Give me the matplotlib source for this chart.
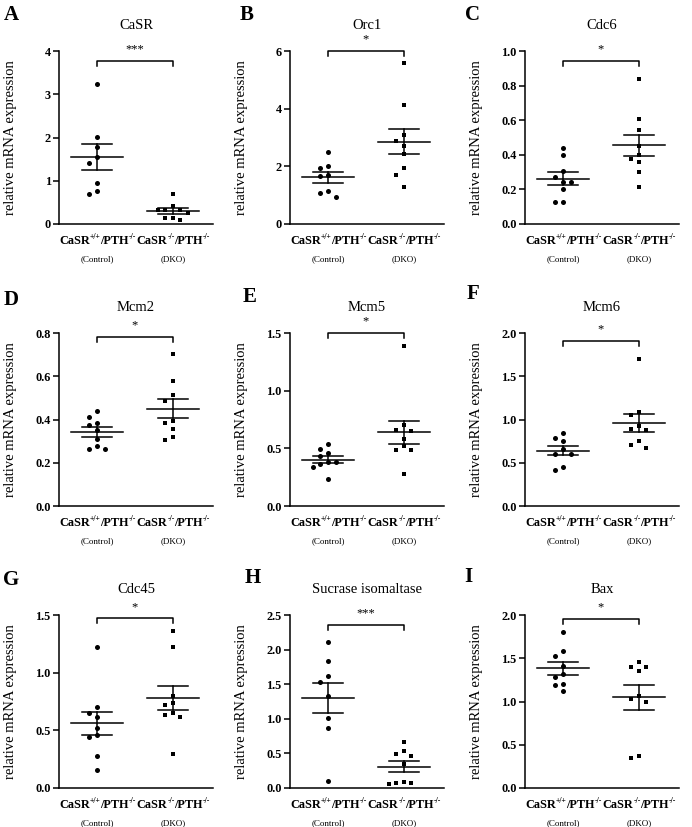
import numpy as np
import matplotlib
matplotlib.use("Agg")
import matplotlib.pyplot as plt

plt.rcParams['font.family'] = ['Liberation Serif', 'DejaVu Serif']

# ---------------- data ----------------
panel_letters = ["A", "B", "C", "D", "E", "F", "G", "H", "I"]
titles = ["CaSR", "Orc1", "Cdc6", "Mcm2", "Mcm5", "Mcm6", "Cdc45",
          "Sucrase isomaltase", "Bax"]
significance = ["***", "*", "*", "*", "*", "*", "*", "***", "*"]
# group labels as (text, is_superscript) pieces
group_labels = [[("CaSR", False), ("+/+", True), ("/PTH", False), ("-/-", True)],
                [("CaSR", False), ("-/-", True), ("/PTH", False), ("-/-", True)]]
group_sublabels = ["(Control)", "(DKO)"]
ylabel = "relative mRNA expression"

y_max = [4, 6, 1.0, 0.8, 1.5, 2.0, 1.5, 2.5, 2.0]
y_step = [1, 2, 0.2, 0.2, 0.5, 0.5, 0.5, 0.5, 0.5]
y_fmt = ["{:.0f}", "{:.0f}", "{:.1f}", "{:.1f}", "{:.1f}", "{:.1f}",
         "{:.1f}", "{:.1f}", "{:.1f}"]

casr_ctrl = [3.24, 2.01, 1.78, 1.56, 1.42, 0.94, 0.77, 0.70]
casr_dko = [0.70, 0.41, 0.33, 0.33, 0.33, 0.26, 0.14, 0.09, 0.14]
orc1_ctrl = [2.50, 2.00, 1.93, 1.70, 1.65, 1.16, 1.08, 0.92]
orc1_dko = [5.57, 4.13, 3.08, 2.88, 2.69, 2.42, 1.93, 1.70, 1.29]
cdc6_ctrl = [0.442, 0.398, 0.308, 0.244, 0.244, 0.269, 0.200, 0.129, 0.129]
cdc6_dko = [0.838, 0.605, 0.543, 0.451, 0.399, 0.376, 0.358, 0.300, 0.214]
mcm2_ctrl = [0.440, 0.410, 0.386, 0.374, 0.352, 0.312, 0.278, 0.263, 0.263]
mcm2_dko = [0.703, 0.579, 0.514, 0.485, 0.386, 0.394, 0.355, 0.321, 0.306]
mcm5_ctrl = [0.541, 0.494, 0.459, 0.430, 0.378, 0.366, 0.378, 0.337, 0.233]
mcm5_dko = [1.384, 0.706, 0.657, 0.648, 0.584, 0.488, 0.488, 0.517, 0.276]
mcm6_ctrl = [0.849, 0.784, 0.753, 0.664, 0.598, 0.598, 0.456, 0.417]
mcm6_dko = [1.70, 1.089, 1.05, 0.888, 0.880, 0.927, 0.753, 0.703, 0.676]
cdc45_ctrl = [1.222, 0.704, 0.617, 0.652, 0.524, 0.443, 0.463, 0.275, 0.153]
cdc45_dko = [1.361, 1.219, 0.796, 0.718, 0.733, 0.631, 0.617, 0.652, 0.293]
si_ctrl = [2.104, 1.834, 1.622, 1.525, 1.332, 1.018, 0.874, 0.101]
si_dko = [0.660, 0.539, 0.491, 0.462, 0.342, 0.068, 0.053, 0.068, 0.082]
bax_ctrl = [1.799, 1.587, 1.525, 1.409, 1.317, 1.278, 1.208, 1.189, 1.124]
bax_dko = [1.460, 1.402, 1.395, 1.356, 1.067, 1.029, 0.998, 0.350, 0.370]

controls = [casr_ctrl, orc1_ctrl, cdc6_ctrl, mcm2_ctrl, mcm5_ctrl, mcm6_ctrl,
            cdc45_ctrl, si_ctrl, bax_ctrl]
dkos = [casr_dko, orc1_dko, cdc6_dko, mcm2_dko, mcm5_dko, mcm6_dko,
        cdc45_dko, si_dko, bax_dko]

# ---------------- style / layout ----------------
bracket_frac = [0.94, 1.0, 0.94, 0.979, 1.0, 0.956, 0.98, 0.942, 0.975]
W, H = 692, 827
DPI = 100
col_left = [59, 290, 525]
ax_w = 154
row_top = [51, 333, 615]
ax_h = 173
letter_pos = [(11, 15), (247, 15), (472, 15),
              (11, 300), (250, 297), (473, 294),
              (11, 580), (253, 578), (468, 577)]
px_per_unit_x = 76.0
label_size = 8.8
sup_size = 5.6

fig = plt.figure(figsize=(W / DPI, H / DPI), dpi=DPI)
renderer = fig.canvas.get_renderer()


def swarm(vals, center, ppu_y, ppu_x, D=7.0, d=0.1):
    vals = np.asarray(vals, float)
    order = np.argsort(-vals, kind="stable")
    placed = []
    xs = np.empty(len(vals))
    for i in order:
        y = vals[i] * ppu_y
        chosen = 0
        for k in [0, -1, 1, -2, 2, -3, 3]:
            x = k * d * ppu_x
            if all(np.hypot(x - px, y - py) >= D for px, py in placed):
                chosen = k
                break
        placed.append((chosen * d * ppu_x, y))
        xs[i] = center + chosen * d
    return xs


def piece_label(ax, g, pieces, y_off):
    texts = []
    widths = []
    for s, sup in pieces:
        t = ax.annotate(s, xy=(g, 0), xycoords=("data", "axes fraction"),
                        xytext=(0, 0), textcoords="offset points",
                        ha="left", va="baseline",
                        fontsize=sup_size if sup else label_size,
                        fontweight="bold", annotation_clip=False)
        texts.append(t)
        w = t.get_window_extent(renderer).width * 72 / DPI
        widths.append(w - (0.6 if sup else 0.0))
    total = sum(widths)
    x = -total / 2
    for t, w, (s, sup) in zip(texts, widths, pieces):
        t.set_position((x, y_off + (3.6 if sup else 0)))
        x += w


lw = 1.1
for idx in range(9):
    r, c = divmod(idx, 3)
    left = col_left[c] / W
    bottom = 1 - (row_top[r] + ax_h) / H
    ax = fig.add_axes([left, bottom, ax_w / W, ax_h / H])
    ymax = y_max[idx]
    ax.set_xlim(-0.5, 1.53)
    ax.set_ylim(0, ymax)
    ppu_y = ax_h / ymax

    for sp in ["top", "right"]:
        ax.spines[sp].set_visible(False)
    for sp in ["left", "bottom"]:
        ax.spines[sp].set_linewidth(lw)
    ticks = np.arange(0, ymax + 1e-9, y_step[idx])
    ax.set_yticks(ticks)
    ax.set_yticklabels([y_fmt[idx].format(t) for t in ticks],
                       fontweight="bold", fontsize=8.8)
    ax.tick_params(axis="y", length=4, width=lw, pad=2)
    ax.set_xticks([])

    for g, (vals, mk) in enumerate([(controls[idx], "o"), (dkos[idx], "s")]):
        vals = np.asarray(vals, float)
        xs = swarm(vals, g, ppu_y, px_per_unit_x)
        ax.scatter(xs, vals, marker=mk, s=13 if mk == "o" else 12,
                   color="black", linewidths=0, zorder=3, clip_on=False)
        m = vals.mean()
        sem = vals.std(ddof=1) / np.sqrt(len(vals))
        ax.plot([g - 0.34, g + 0.34], [m, m], color="black", lw=lw, zorder=2)
        ax.plot([g - 0.2, g + 0.2], [m + sem, m + sem], color="black", lw=lw, zorder=2)
        ax.plot([g - 0.2, g + 0.2], [m - sem, m - sem], color="black", lw=lw, zorder=2)
        ax.plot([g, g], [m - sem, m + sem], color="black", lw=lw, zorder=2)
        piece_label(ax, g, group_labels[g], -14.5)
        ax.annotate(group_sublabels[g], xy=(g, 0), xycoords=("data", "axes fraction"),
                    xytext=(0, -22.5), textcoords="offset points",
                    ha="center", va="top", fontsize=6.5)

    # significance bracket
    yb = bracket_frac[idx] * ymax
    hb = 5 / ppu_y
    ax.plot([0, 0, 1, 1], [yb - hb, yb, yb, yb - hb], color="black", lw=lw,
            clip_on=False)
    ax.annotate(significance[idx], xy=(0.5, yb), xycoords="data",
                xytext=(0, 4), textcoords="offset points",
                ha="center", va="bottom", fontsize=9)

    ax.set_title(titles[idx], fontsize=10.5, pad=15.5)
    ax.set_ylabel(ylabel, fontsize=10.5)
    ax.yaxis.set_label_coords(-42 / ax_w, 0.5)

    lx, ly = letter_pos[idx]
    fig.text(lx / W, 1 - ly / H, panel_letters[idx], fontsize=15,
             fontweight="bold", ha="center", va="center")

fig.savefig("out.png", dpi=DPI)
